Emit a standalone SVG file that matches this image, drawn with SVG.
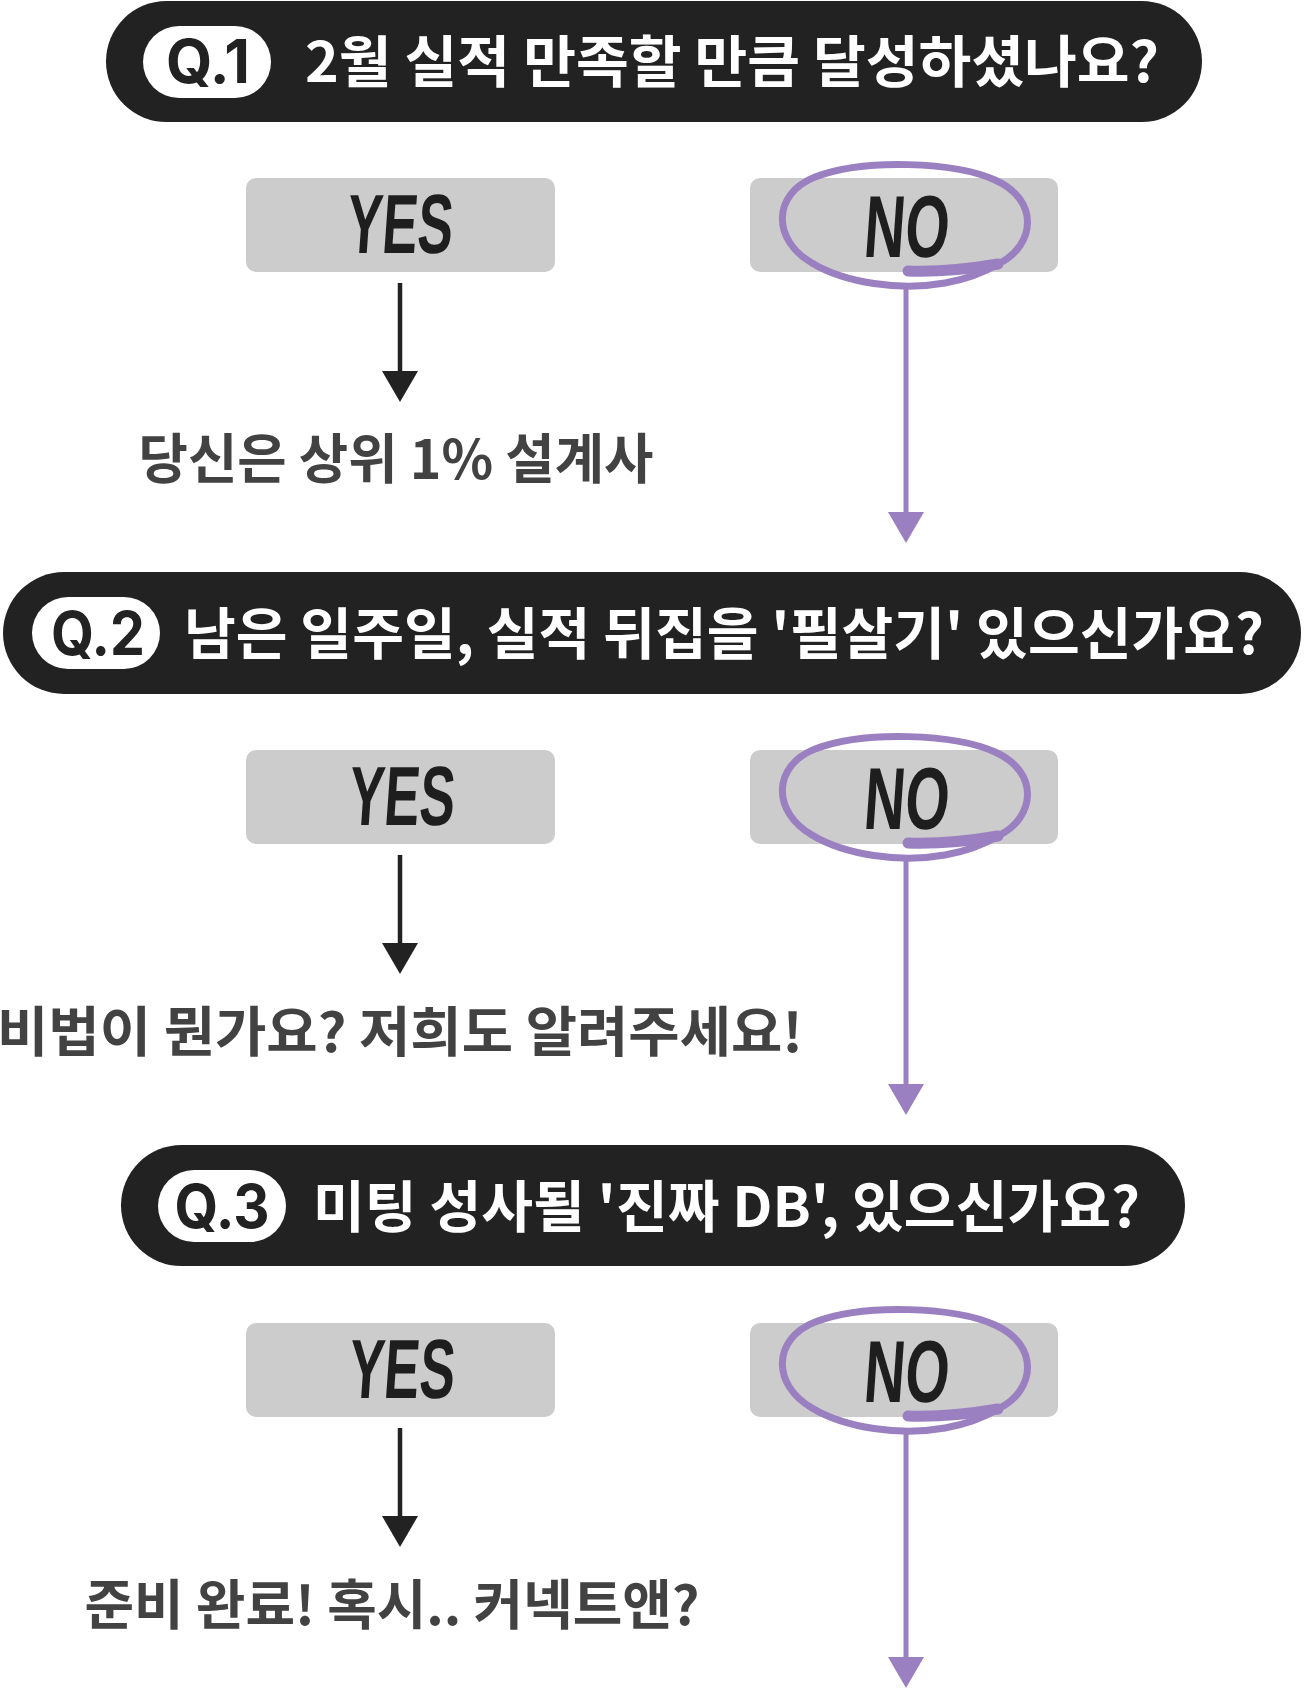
<svg xmlns="http://www.w3.org/2000/svg" width="1304" height="1689" viewBox="0 0 1304 1689">
  <style>
    .pill { fill: #222222; }
    .badge { fill: #ffffff; }
    .badge-t { font-family: "Inter", "Liberation Sans", sans-serif; font-weight: 700; font-size: 60px; fill: #222222; text-anchor: middle; }
    .q-t { font-family: "Noto Sans CJK KR", "Liberation Sans", sans-serif; font-weight: 700; font-size: 56px; fill: #ffffff; }
    .box { fill: #cccccc; }
    .hand { font-family: "Liberation Sans", "DejaVu Sans", sans-serif; font-weight: 700; fill: #1e1e1e; text-anchor: middle; }
    .res { font-family: "Noto Sans CJK KR", sans-serif; font-weight: 700; font-size: 54px; fill: #424242; text-anchor: middle; }
    .circ { fill: none; stroke: #9b80c1; stroke-width: 7; stroke-linecap: round; }
    .tail { fill: none; stroke: #9b80c1; stroke-width: 11; stroke-linecap: round; }
    .blk { stroke: #222222; stroke-width: 4.5; fill: none; }
    .pur { stroke: #9b80c1; stroke-width: 5; fill: none; }
  </style>
  <defs>
    <marker id="ahB" markerUnits="userSpaceOnUse" markerWidth="31" markerHeight="36" refX="0" refY="18" orient="auto" viewBox="0 0 31 36">
      <path d="M0 0 L31 18 L0 36 Z" fill="#222222"/>
    </marker>
    <marker id="ahP" markerUnits="userSpaceOnUse" markerWidth="31" markerHeight="36" refX="0" refY="18" orient="auto" viewBox="0 0 31 36">
      <path d="M0 0 L31 18 L0 36 Z" fill="#9b80c1"/>
    </marker>
    <g id="noCircle">
      <path class="circ" d="M1000 263 C1035 245 1040 200 995 180 C955 162 865 158 815 177 C772 194 772 240 812 263 C845 283 900 291 945 283 C968 279 985 272 1000 263"/>
      <path class="tail" d="M908 271 C940 272 975 268 998 264"/>
    </g>
  </defs>
  <rect width="1304" height="1689" fill="#ffffff"/>

  <!-- Question 1 -->
  <g id="q1">
    <rect class="pill" x="106" y="1" width="1096" height="121" rx="60.5"/>
    <rect class="badge" x="143" y="26" width="128" height="72" rx="36"/>
    <text class="badge-t" x="208" y="83" textLength="84" lengthAdjust="spacingAndGlyphs">Q.1</text>
    <text class="q-t" x="305" y="82" textLength="854" lengthAdjust="spacingAndGlyphs">2월 실적 만족할 만큼 달성하셨나요?</text>
  </g>
  <g id="q1-yes">
    <rect class="box" x="246" y="178" width="309" height="94" rx="10"/>
    <text class="hand" x="400" y="253" font-size="84" textLength="106" lengthAdjust="spacingAndGlyphs" transform="skewX(-4) translate(16 0)">YES</text>
  </g>
  <g id="q1-no">
    <rect class="box" x="750" y="178" width="308" height="94" rx="10"/>
    <text class="hand" x="905" y="257" font-size="88" textLength="85" lengthAdjust="spacingAndGlyphs" transform="skewX(-4) translate(18 0)">NO</text>
    <use href="#noCircle"/>
  </g>
  <g id="q1-result">
    <text class="res" x="396" y="479" textLength="515" lengthAdjust="spacingAndGlyphs">당신은 상위 1% 설계사</text>
  </g>

  <!-- Question 2 -->
  <g id="q2">
    <rect class="pill" x="3" y="572" width="1298" height="122" rx="61"/>
    <rect class="badge" x="32" y="597" width="128" height="72" rx="36"/>
    <text class="badge-t" x="98" y="655" textLength="94" lengthAdjust="spacingAndGlyphs">Q.2</text>
    <text class="q-t" x="184" y="654" textLength="1080" lengthAdjust="spacingAndGlyphs">남은 일주일, 실적 뒤집을 '필살기' 있으신가요?</text>
  </g>
  <g id="q2-yes">
    <rect class="box" x="246" y="750" width="309" height="94" rx="10"/>
    <text class="hand" x="400" y="825" font-size="84" textLength="106" lengthAdjust="spacingAndGlyphs" transform="skewX(-4) translate(58 0)">YES</text>
  </g>
  <g id="q2-no">
    <rect class="box" x="750" y="750" width="308" height="94" rx="10"/>
    <text class="hand" x="905" y="829" font-size="88" textLength="85" lengthAdjust="spacingAndGlyphs" transform="skewX(-4) translate(58 0)">NO</text>
    <use href="#noCircle" transform="translate(0 572)"/>
  </g>
  <g id="q2-result">
    <text class="res" x="400" y="1052" textLength="806" lengthAdjust="spacingAndGlyphs">비법이 뭔가요? 저희도 알려주세요!</text>
  </g>

  <!-- Question 3 -->
  <g id="q3">
    <rect class="pill" x="121" y="1145" width="1064" height="121" rx="60.5"/>
    <rect class="badge" x="158" y="1170" width="128" height="72" rx="36"/>
    <text class="badge-t" x="222" y="1228" textLength="95" lengthAdjust="spacingAndGlyphs">Q.3</text>
    <text class="q-t" x="313" y="1227" textLength="827" lengthAdjust="spacingAndGlyphs">미팅 성사될 '진짜 DB', 있으신가요?</text>
  </g>
  <g id="q3-yes">
    <rect class="box" x="246" y="1323" width="309" height="94" rx="10"/>
    <text class="hand" x="400" y="1398" font-size="84" textLength="106" lengthAdjust="spacingAndGlyphs" transform="skewX(-4) translate(98 0)">YES</text>
  </g>
  <g id="q3-no">
    <rect class="box" x="750" y="1323" width="308" height="94" rx="10"/>
    <text class="hand" x="905" y="1402" font-size="88" textLength="85" lengthAdjust="spacingAndGlyphs" transform="skewX(-4) translate(98 0)">NO</text>
    <use href="#noCircle" transform="translate(0 1145)"/>
  </g>
  <g id="q3-result">
    <text class="res" x="392" y="1625" textLength="615" lengthAdjust="spacingAndGlyphs">준비 완료! 혹시.. 커넥트앤?</text>
  </g>

  <!-- Connectors -->
  <g id="connectors">
    <line class="blk" x1="400" y1="283" x2="400" y2="371" marker-end="url(#ahB)"/>
    <line class="pur" x1="906" y1="287" x2="906" y2="512" marker-end="url(#ahP)"/>
    <line class="blk" x1="400" y1="855" x2="400" y2="943" marker-end="url(#ahB)"/>
    <line class="pur" x1="906" y1="859" x2="906" y2="1084" marker-end="url(#ahP)"/>
    <line class="blk" x1="400" y1="1428" x2="400" y2="1516" marker-end="url(#ahB)"/>
    <line class="pur" x1="906" y1="1432" x2="906" y2="1657" marker-end="url(#ahP)"/>
  </g>
</svg>
